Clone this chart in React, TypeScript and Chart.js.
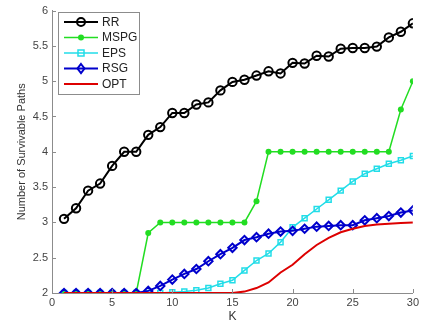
import React, { useEffect, useRef } from "react";
import { Chart, registerables } from "chart.js";

Chart.register(...registerables);

const K = [1, 2, 3, 4, 5, 6, 7, 8, 9, 10, 11, 12, 13, 14, 15, 16, 17, 18, 19, 20, 21, 22, 23, 24, 25, 26, 27, 28, 29, 30];
const RR = [3.05, 3.2, 3.45, 3.55, 3.8, 4.0, 4.0, 4.24, 4.35, 4.55, 4.55, 4.67, 4.7, 4.87, 4.99, 5.02, 5.08, 5.14, 5.11, 5.26, 5.25, 5.36, 5.35, 5.46, 5.47, 5.47, 5.49, 5.62, 5.7, 5.82];
const MSPG = [2, 2, 2, 2, 2, 2, 2, 2.85, 3, 3, 3, 3, 3, 3, 3, 3, 3.3, 4, 4, 4, 4, 4, 4, 4, 4, 4, 4, 4, 4.6, 5.0];
const EPS = [2, 2, 2, 2, 2, 2, 2, 2, 2, 2.01, 2.02, 2.04, 2.07, 2.13, 2.18, 2.32, 2.46, 2.56, 2.72, 2.93, 3.06, 3.19, 3.32, 3.45, 3.58, 3.69, 3.76, 3.83, 3.88, 3.94];
const RSG = [2, 2, 2, 2, 2, 2, 2, 2.03, 2.1, 2.19, 2.27, 2.34, 2.45, 2.55, 2.64, 2.75, 2.79, 2.84, 2.87, 2.88, 2.91, 2.94, 2.95, 2.96, 2.96, 3.03, 3.06, 3.09, 3.14, 3.17];
const OPT = [2, 2, 2, 2, 2, 2, 2, 2, 2, 2, 2, 2, 2, 2, 2, 2.02, 2.07, 2.15, 2.29, 2.4, 2.55, 2.68, 2.78, 2.86, 2.91, 2.95, 2.97, 2.98, 2.99, 3.0];

const SERIES_NAMES = ["RR", "MSPG", "EPS", "RSG", "OPT"];
const X_TICKS = [0, 5, 10, 15, 20, 25, 30];
const Y_TICKS = [2, 2.5, 3, 3.5, 4, 4.5, 5, 5.5, 6];
const X_TITLE = "K";
const Y_TITLE = "Number of Survivable Paths";

const COLORS = ["#000000", "#22dd22", "#22dde8", "#0000cc", "#dd0000"];
const POINT_STYLES = ["circle", "circle", "rect", "rectRot", false];

const AXIS_GRAY = "#8c8c8c";
const FONT = "'Liberation Sans', Arial, sans-serif";

function drawMarker(ctx: CanvasRenderingContext2D, i: number, x: number, y: number) {
  const c = COLORS[i];
  ctx.save();
  ctx.strokeStyle = c;
  ctx.fillStyle = c;
  if (i === 0) {
    ctx.lineWidth = 2;
    ctx.beginPath();
    ctx.arc(x, y, 4, 0, Math.PI * 2);
    ctx.stroke();
  } else if (i === 1) {
    ctx.beginPath();
    ctx.arc(x, y, 3, 0, Math.PI * 2);
    ctx.fill();
  } else if (i === 2) {
    ctx.lineWidth = 1.5;
    ctx.strokeRect(x - 3, y - 3, 6, 6);
  } else if (i === 3) {
    ctx.lineWidth = 2;
    ctx.beginPath();
    ctx.moveTo(x, y - 4.5);
    ctx.lineTo(x + 3.5, y);
    ctx.lineTo(x, y + 4.5);
    ctx.lineTo(x - 3.5, y);
    ctx.closePath();
    ctx.stroke();
  }
  ctx.restore();
}

const legendAndTicks = {
  id: "legendAndTicks",
  afterDraw(chart: any) {
    const ctx: CanvasRenderingContext2D = chart.ctx;
    const xs = chart.scales.x;
    const ys = chart.scales.y;
    const area = chart.chartArea;
    ctx.save();
    // inward ticks
    ctx.strokeStyle = AXIS_GRAY;
    ctx.lineWidth = 1;
    ctx.beginPath();
    for (const t of Y_TICKS) {
      const py = Math.round(ys.getPixelForValue(t)) + 0.5;
      ctx.moveTo(area.left, py);
      ctx.lineTo(area.left + 4, py);
    }
    for (const t of X_TICKS) {
      const px = Math.round(xs.getPixelForValue(t)) + 0.5;
      ctx.moveTo(px, area.bottom);
      ctx.lineTo(px, area.bottom - 4);
    }
    ctx.stroke();

    // legend box
    const bx = 58.5, by = 12.5, bw = 81, bh = 82;
    ctx.fillStyle = "#ffffff";
    ctx.fillRect(bx, by, bw, bh);
    ctx.strokeStyle = AXIS_GRAY;
    ctx.strokeRect(bx, by, bw, bh);
    const rowY = [22, 37.5, 53, 68.5, 84];
    ctx.font = `12px ${FONT}`;
    ctx.textBaseline = "middle";
    ctx.textAlign = "left";
    SERIES_NAMES.forEach((name, i) => {
      const y = rowY[i];
      ctx.strokeStyle = COLORS[i];
      ctx.lineWidth = i === 0 || i === 3 || i === 4 ? 2 : 1.5;
      ctx.beginPath();
      ctx.moveTo(64, y);
      ctx.lineTo(98, y);
      ctx.stroke();
      drawMarker(ctx, i, 81, y);
      ctx.fillStyle = "#222222";
      ctx.fillText(name, 102, y + 0.5);
    });
    ctx.restore();
  },
};

export default function App() {
  const ref = useRef<HTMLCanvasElement | null>(null);

  useEffect(() => {
    if (!ref.current) return;
    const seriesValues = [RR, MSPG, EPS, RSG, OPT];
    const datasets = seriesValues.map((vals, i) => ({
      label: SERIES_NAMES[i],
      data: K.map((k, j) => ({ x: k, y: vals[j] })),
      borderColor: COLORS[i],
      backgroundColor: i === 1 ? COLORS[i] : "transparent",
      borderWidth: i === 0 || i === 3 || i === 4 ? 2 : 1.5,
      pointStyle: POINT_STYLES[i] as any,
      pointRadius: i === 4 ? 0 : i === 1 ? 3 : i === 2 ? 3.5 : 4.2,
      pointBorderWidth: i === 1 ? 0 : i === 2 ? 1.5 : 2,
      pointBackgroundColor: i === 1 ? COLORS[i] : "transparent",
      pointBorderColor: COLORS[i],
      tension: 0,
      order: 4 - i,
    }));

    const chart = new Chart(ref.current, {
      type: "line",
      data: { datasets },
      plugins: [legendAndTicks],
      options: {
        animation: false,
        responsive: false,
        maintainAspectRatio: false,
        layout: { padding: { left: 0, top: 10, right: 9, bottom: 0 } },
        plugins: { legend: { display: false }, tooltip: { enabled: false } },
        scales: {
          x: {
            type: "linear",
            min: 0,
            max: 30,
            afterFit: (s: any) => { s.height = 34; },
            afterBuildTicks: (s: any) => { s.ticks = X_TICKS.map((v) => ({ value: v })); },
            grid: { display: false, drawTicks: false },
            border: { display: true, color: AXIS_GRAY, width: 1 },
            ticks: { padding: 3, color: "#444444", font: { family: FONT, size: 11 }, maxRotation: 0 },
            title: { display: true, text: X_TITLE, color: "#333333", font: { family: FONT, size: 12 }, padding: { top: 0, bottom: 3 } },
          },
          y: {
            type: "linear",
            min: 2,
            max: 6,
            afterFit: (s: any) => { s.width = 52; },
            afterBuildTicks: (s: any) => { s.ticks = Y_TICKS.map((v) => ({ value: v })); },
            grid: { display: false, drawTicks: false },
            border: { display: true, color: AXIS_GRAY, width: 1 },
            ticks: { padding: 4, color: "#444444", font: { family: FONT, size: 11 }, callback: (v: any) => String(v) },
            title: { display: true, text: Y_TITLE, color: "#333333", font: { family: FONT, size: 11 }, padding: { top: 15, bottom: 0 } },
          },
        },
      },
    });
    return () => chart.destroy();
  }, []);

  return (
    <div style={{ position: "fixed", left: 0, top: 0, width: 422, height: 327, background: "#fff" }}>
      <canvas ref={ref} width={422} height={327} />
    </div>
  );
}
